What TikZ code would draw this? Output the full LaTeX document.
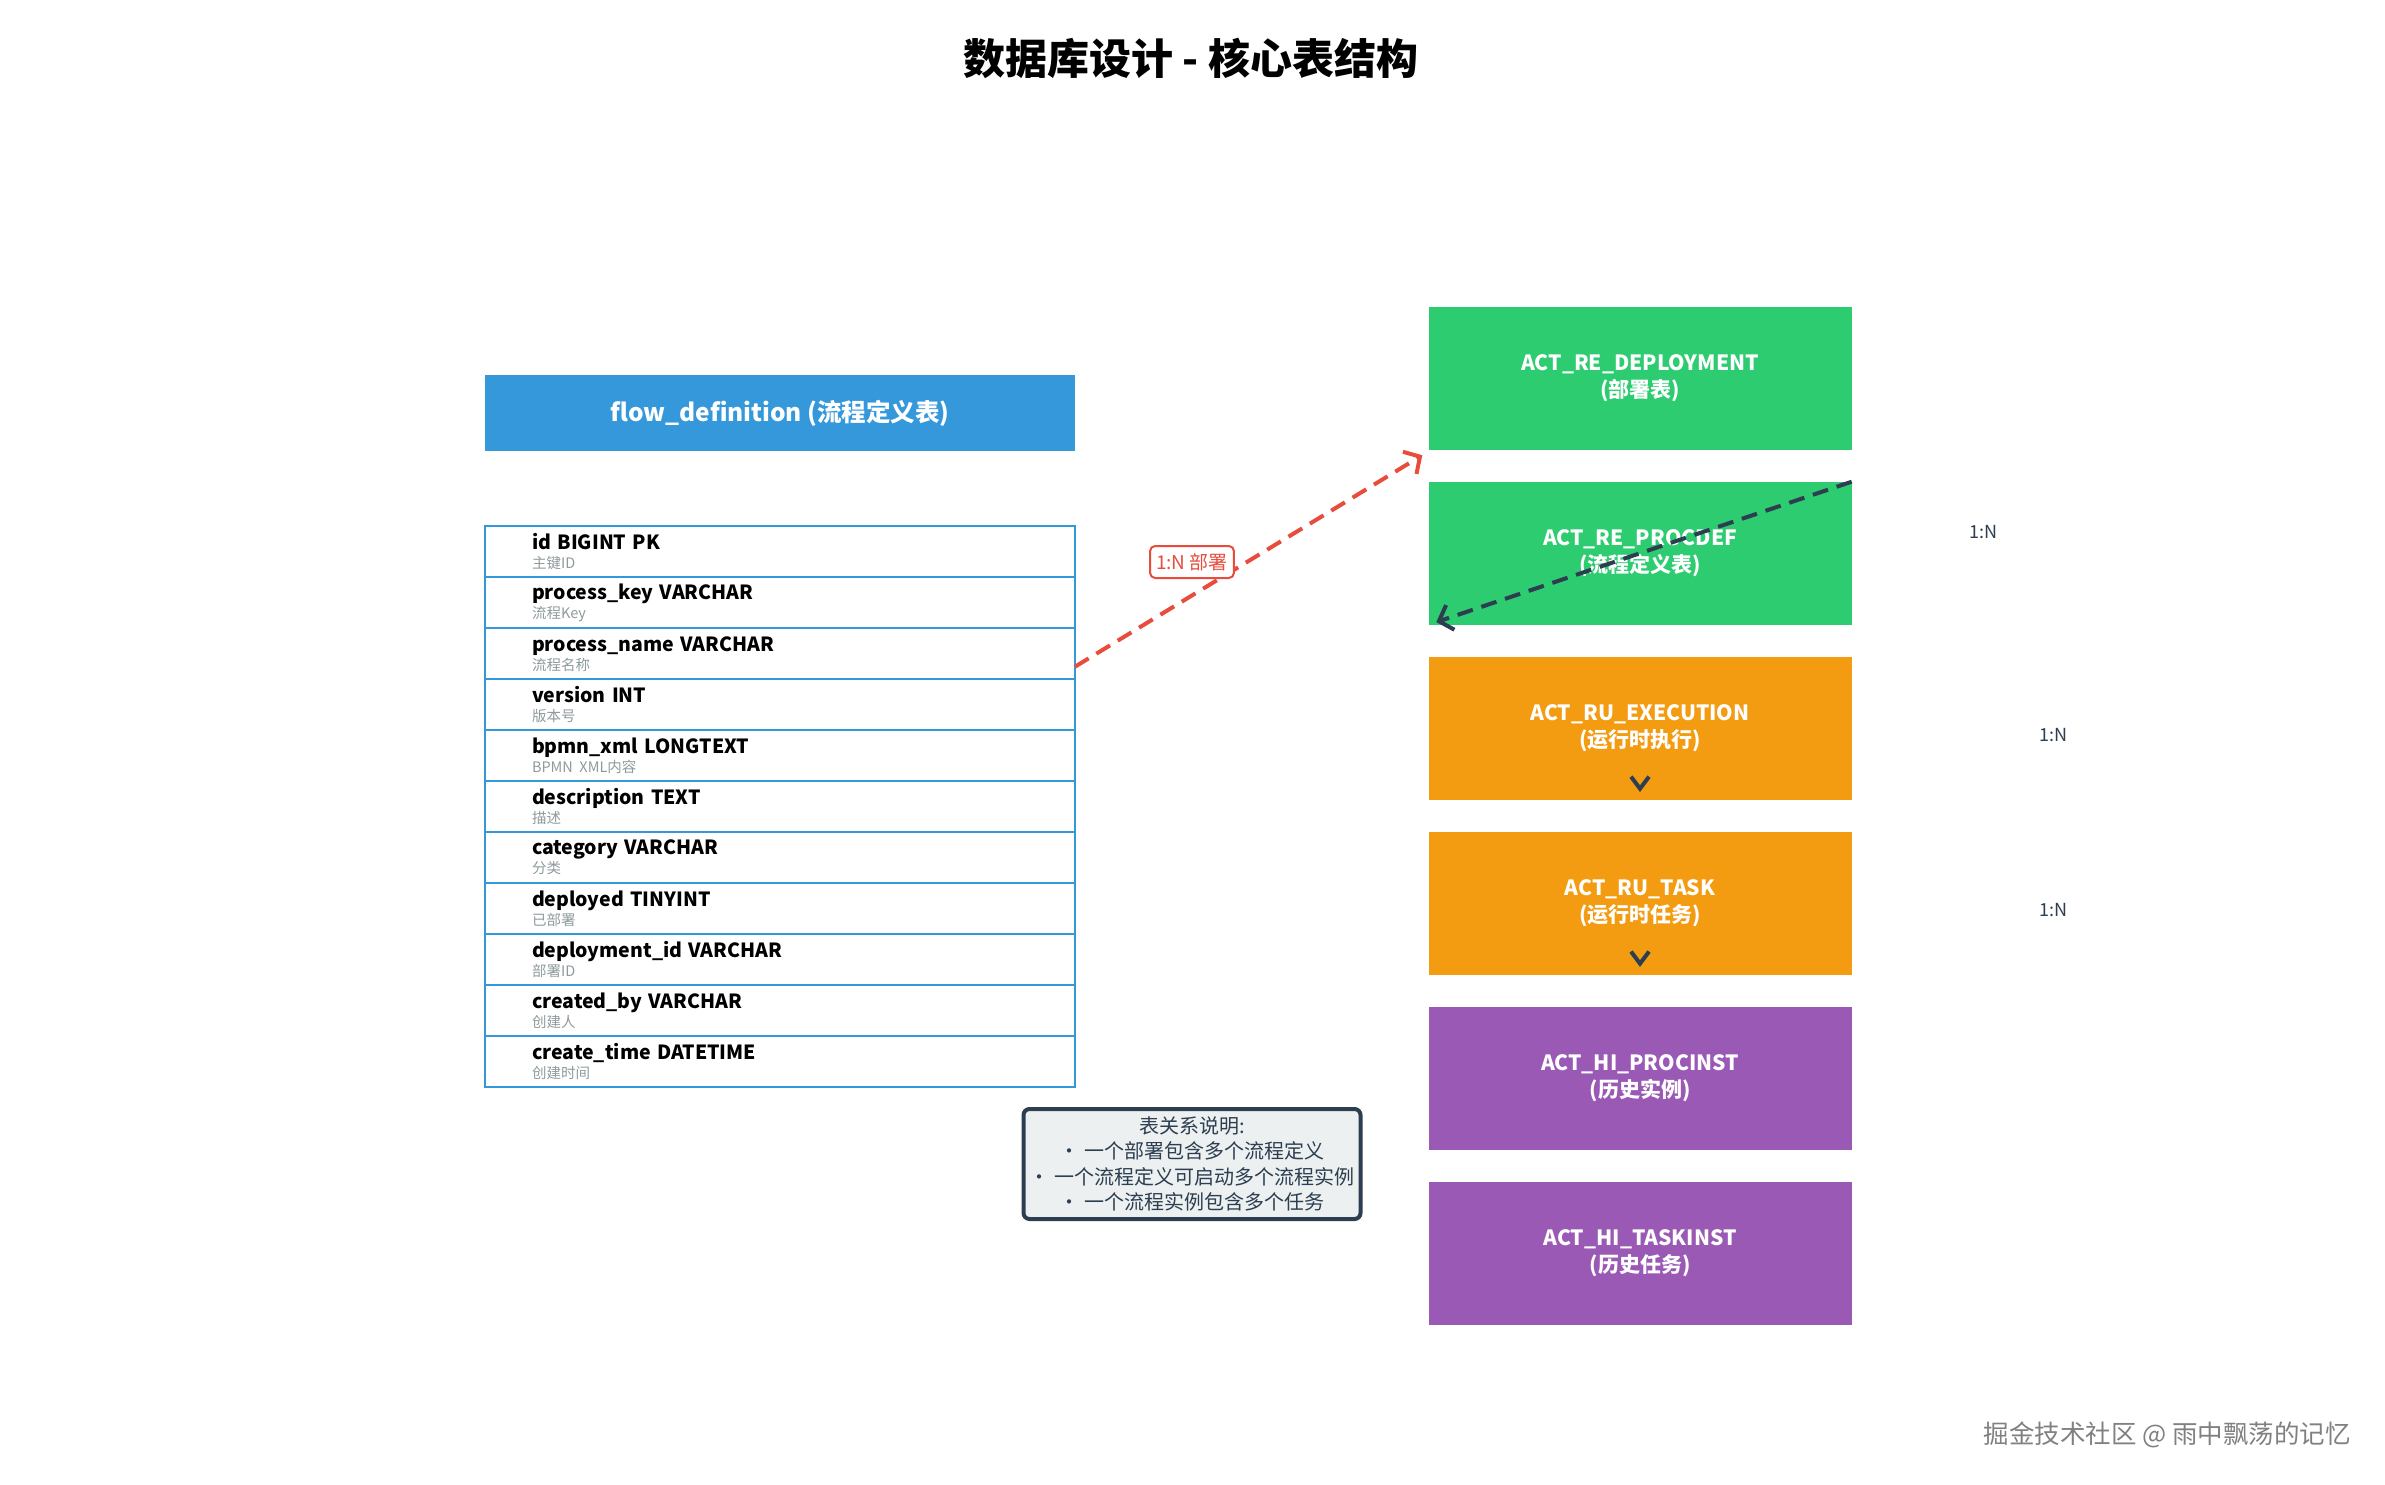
\documentclass[tikz,border=0pt]{standalone}
\usepackage{fontspec}
\setmainfont{Noto Sans CJK SC}
\usetikzlibrary{arrows.meta,positioning}
\definecolor{hdrblue}{HTML}{3498DB}
\definecolor{regreen}{HTML}{2ECC71}
\definecolor{ruorange}{HTML}{F39C12}
\definecolor{hipurple}{HTML}{9B59B6}
\definecolor{relred}{HTML}{E74C3C}
\definecolor{darkslate}{HTML}{2C3E50}
\definecolor{notefill}{HTML}{ECF0F1}
\definecolor{subgray}{HTML}{8E9A9C}
\newcommand{\colsub}[1]{{\color{subgray}\mdseries\fontsize{14.5}{19}\selectfont #1}}

\begin{document}
\begin{tikzpicture}[
    x=1pt, y=-1pt,
    node distance=31.5pt,
    title/.style={font=\fontsize{42}{50}\selectfont\bfseries},
    header/.style={fill=hdrblue, text=white, minimum width=590pt, minimum height=76pt, font=\fontsize{24.5}{30}\selectfont\bfseries},
    field/.style={draw=hdrblue, line width=2pt, outer sep=0pt, minimum width=590pt, minimum height=51pt, text width=496pt, align=left, inner xsep=0pt, font=\fontsize{19.5}{19}\selectfont\bfseries},
    tbl/.style={minimum width=423pt, minimum height=143pt, align=center, text=white, font=\fontsize{21}{27}\selectfont\bfseries},
    relation/.style={draw=relred, line width=2pt, rounded corners=5pt, fill=white, text=relred, minimum height=32pt, inner xsep=6pt, font=\fontsize{19}{22}\selectfont},
    ratio/.style={text=darkslate, font=\fontsize{18}{20}\selectfont},
    note/.style={draw=darkslate, line width=4pt, rounded corners=6pt, fill=notefill, text=darkslate, minimum width=337pt, minimum height=110pt, align=center, font=\fontsize{20}{25.5}\selectfont},
    wmark/.style={text=gray, font=\fontsize{25.5}{30}\selectfont},
    reddash/.style={relred, line width=4pt, dash pattern=on 16pt off 9pt, -{Straight Barb[length=12pt, width=26pt, line width=4pt]}},
    darkdash/.style={darkslate, line width=4pt, dash pattern=on 16pt off 9pt, -{Straight Barb[length=12pt, width=26pt, line width=4pt]}},
    chevron/.style={darkslate, line width=3pt, -{Straight Barb[length=12pt, width=18pt, line width=4pt]}}
]
\useasboundingbox (0,0) rectangle (2385,1485);

\node[title] (title) at (1191,58) {数据库设计 - 核心表结构};

\node[header] (flowdef) at (780,413) {flow\_definition (流程定义表)};
\node[field, below=75pt of flowdef] (c1) {id BIGINT PK\\\colsub{主键ID}};
\node[field, below=0pt of c1] (c2) {process\_key VARCHAR\\\colsub{流程Key}};
\node[field, below=0pt of c2] (c3) {process\_name VARCHAR\\\colsub{流程名称}};
\node[field, below=0pt of c3] (c4) {version INT\\\colsub{版本号}};
\node[field, below=0pt of c4] (c5) {bpmn\_xml LONGTEXT\\\colsub{BPMN XML内容}};
\node[field, below=0pt of c5] (c6) {description TEXT\\\colsub{描述}};
\node[field, below=0pt of c6] (c7) {category VARCHAR\\\colsub{分类}};
\node[field, below=0pt of c7] (c8) {deployed TINYINT\\\colsub{已部署}};
\node[field, below=0pt of c8] (c9) {deployment\_id VARCHAR\\\colsub{部署ID}};
\node[field, below=0pt of c9] (c10) {created\_by VARCHAR\\\colsub{创建人}};
\node[field, below=0pt of c10] (c11) {create\_time DATETIME\\\colsub{创建时间}};

\node[tbl, fill=regreen] (deploy) at (1640,378.5) {ACT\_RE\_DEPLOYMENT\\(部署表)};
\node[tbl, fill=regreen, below=of deploy] (procdef) {ACT\_RE\_PROCDEF\\(流程定义表)};
\node[tbl, fill=ruorange, below=of procdef] (exec) {ACT\_RU\_EXECUTION\\(运行时执行)};
\node[tbl, fill=ruorange, below=of exec] (task) {ACT\_RU\_TASK\\(运行时任务)};
\node[tbl, fill=hipurple, below=of task] (procinst) {ACT\_HI\_PROCINST\\(历史实例)};
\node[tbl, fill=hipurple, below=of procinst] (taskinst) {ACT\_HI\_TASKINST\\(历史任务)};

\node[ratio] (n1) at (1983,532) {1:N};
\node[ratio] (n2) at (2053,735) {1:N};
\node[ratio] (n3) at (2053,910) {1:N};

\draw[reddash] ([yshift=-13pt]c3.east) -- ([xshift=-6pt,yshift=-5pt]deploy.south west);
\node[relation] (deplabel) at (1192,562) {1:N 部署};
\draw[darkdash] (procdef.north east) -- ([xshift=8pt,yshift=3pt]procdef.south west);
\draw[chevron] ([yshift=10pt]exec.south) -- ([yshift=8pt]exec.south);
\draw[chevron] ([yshift=10pt]task.south) -- ([yshift=8pt]task.south);

\node[note] (note) at (1192,1164) {表关系说明:\\• 一个部署包含多个流程定义\\• 一个流程定义可启动多个流程实例\\• 一个流程实例包含多个任务};

\node[wmark] (wm) at (2167,1435) {掘金技术社区 @ 雨中飘荡的记忆};
\end{tikzpicture}
\end{document}
